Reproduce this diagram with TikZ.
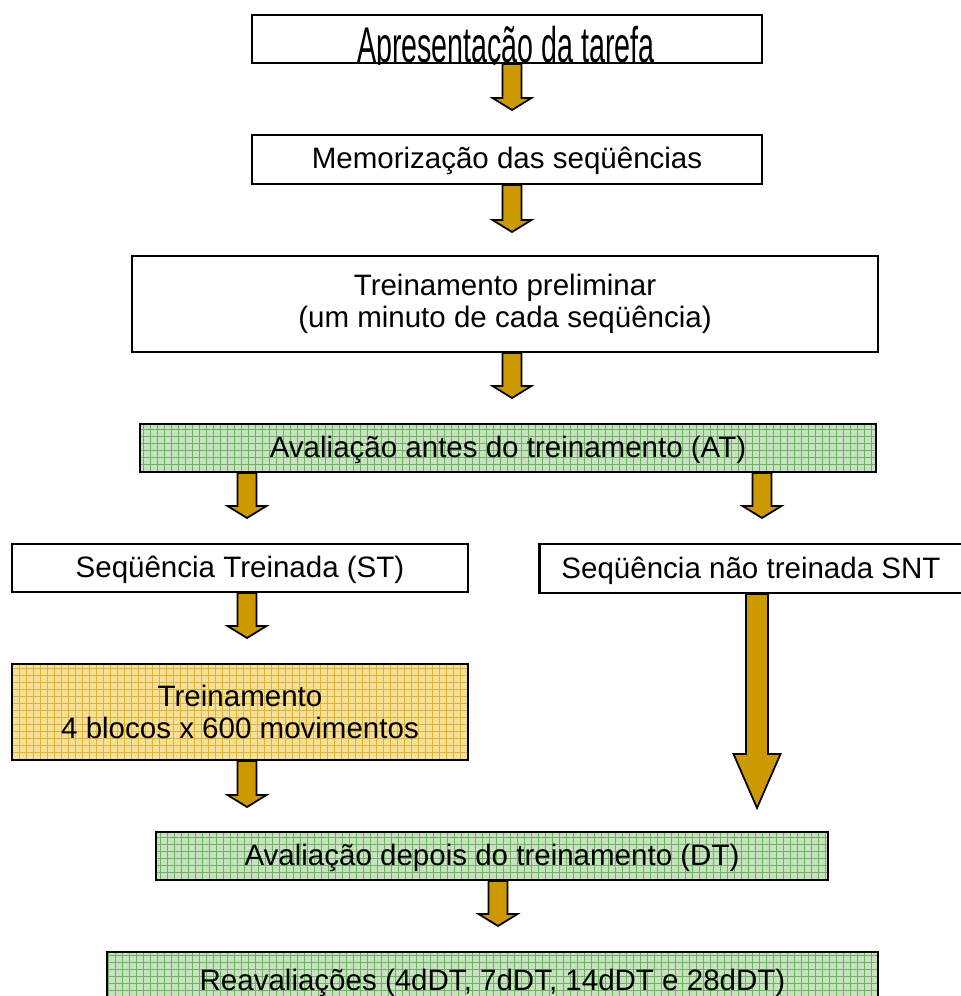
\documentclass[tikz,border=0pt]{standalone}
\usepackage{fontspec}
\setmainfont{Liberation Sans}
\usepackage{graphicx}
\usetikzlibrary{calc}
\definecolor{ArrowGold}{RGB}{204, 153, 0}
\definecolor{GreenFill}{RGB}{198, 226, 190}
\definecolor{GreenLine}{RGB}{112, 176, 100}
\definecolor{SandFill}{RGB}{246, 224, 152}
\definecolor{SandLine}{RGB}{220, 178, 56}

\begin{document}
\begin{tikzpicture}[
  x=0.02cm, y=-0.02cm,
  every node/.style={font=\fontsize{16.8}{18.2}\selectfont},
  plainbox/.style={draw=black, line width=1.2pt, fill=white,
                   inner sep=0pt, text height=0.47cm, text depth=0.09cm},
  twoline/.style={align=center, text height={}, text depth={}},
  greenbox/.style={plainbox, fill=GreenFill,
    path picture={\draw[GreenLine, line width=0.5pt]
      (path picture bounding box.south west) grid[step=0.14cm]
      (path picture bounding box.north east);}},
  sandbox/.style={plainbox, fill=SandFill,
    path picture={\draw[SandLine, line width=0.5pt]
      (path picture bounding box.south west) grid[step=0.14cm]
      (path picture bounding box.north east);}},
  blockarr/.style n args={3}{fill=ArrowGold, draw=black, line width=1pt,
    line join=miter,
    to path={let \p1=(\tikztostart), \p2=(\tikztotarget) in
      (\x2-#1,\y1) -- (\x2-#1,\y2+#3) -- (\x2-#2,\y2+#3) -- (\x2,\y2)
      -- (\x2+#2,\y2+#3) -- (\x2+#1,\y2+#3) -- (\x2+#1,\y1) -- cycle}},
  arr/.style={blockarr={0.19cm}{0.39cm}{0.24cm}},
  bigarr/.style={blockarr={0.22cm}{0.47cm}{1.08cm}}
]
  \useasboundingbox (0,0) rectangle (960,996);

  %% Boxes
  \node[plainbox, minimum width=10.2cm, minimum height=0.96cm]  (pres)   at (507,39)    {};
  \begin{scope}
    \clip (pres.south west) rectangle (pres.north east);
    \node[anchor=base] (presText) at (506,63) {\scalebox{0.97}[1.7]{Apresentação da tarefa}};
  \end{scope}
  \node[plainbox, minimum width=10.2cm, minimum height=0.98cm]  (memo)   at (507,159.5) {Memorização das seqüências};
  \node[plainbox, twoline, minimum width=14.92cm, minimum height=1.92cm] (prelim) at (505,304) {Treinamento preliminar\\(um minuto de cada seqüência)};
  \node[greenbox, minimum width=14.72cm, minimum height=0.96cm] (antes)  at (508,448)   {Avaliação antes do treinamento (AT)};
  \node[plainbox, minimum width=9.12cm, minimum height=0.96cm]  (st)     at (240,568)   {Seqüência Treinada (ST)};
  \node[plainbox, minimum width=8.46cm, minimum height=0.98cm]  (snt)    at (751,568.5) {Seqüência não treinada SNT};
  \node[sandbox, twoline, minimum width=9.12cm, minimum height=1.92cm] (trein) at (240,712) {Treinamento\\4 blocos x 600 movimentos};
  \node[greenbox, minimum width=13.44cm, minimum height=0.96cm] (depois) at (492,856)   {Avaliação depois do treinamento (DT)};
  \node[greenbox, minimum width=15.42cm, minimum height=1.16cm] (reav)   at (492.5,981) {Reavaliações (4dDT, 7dDT, 14dDT e 28dDT)};

  %% Arrow tips
  \coordinate (t1) at (512,110);
  \coordinate (t2) at (512,232);
  \coordinate (t3) at (512,398);
  \coordinate (t4) at (247,518);
  \coordinate (t5) at (762,518);
  \coordinate (t6) at (247,638);
  \coordinate (t7) at (757,808);
  \coordinate (t8) at (247,807);
  \coordinate (t9) at (498,926);

  %% Arrows
  \draw[arr]    (pres.south -| t1)   to (t1);
  \draw[arr]    (memo.south -| t2)   to (t2);
  \draw[arr]    (prelim.south -| t3) to (t3);
  \draw[arr]    (antes.south -| t4)  to (t4);
  \draw[arr]    (antes.south -| t5)  to (t5);
  \draw[arr]    (st.south -| t6)     to (t6);
  \draw[bigarr] (snt.south -| t7)    to (t7);
  \draw[arr]    (trein.south -| t8)  to (t8);
  \draw[arr]    (depois.south -| t9) to (t9);
\end{tikzpicture}
\end{document}
